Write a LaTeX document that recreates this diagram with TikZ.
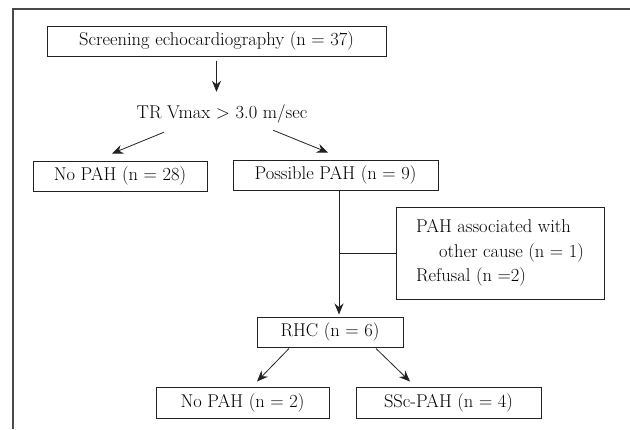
\documentclass[tikz,border=0pt]{standalone}
\usetikzlibrary{arrows.meta,positioning,calc}
\definecolor{Frame}{HTML}{4A4A4A}
\definecolor{Ink}{HTML}{222222}
\tikzset{
  box/.style={draw=Ink, line width=1pt, minimum height=30pt, inner sep=0pt, font=\fontsize{18.5}{24.5}\selectfont},
  plain/.style={inner sep=0pt, text height=12pt, text depth=4pt, font=\fontsize{18.5}{24.5}\selectfont},
  arr/.style={-{Stealth[length=11pt,width=9pt]}, line width=0.8pt, draw=Ink},
  link/.style={line width=0.8pt, draw=Ink}
}
\begin{document}
\begin{tikzpicture}[x=1pt,y=-1pt]
\useasboundingbox (0,0) rectangle (630,429);
\draw[Frame, line width=1.3pt] (630,9) -- (13,9) -- (13,429);
\node[box,minimum width=339pt] (screen) at (216.5,41) {Screening echocardiography (n = 37)};
\node[plain] (tr) at (222,114) {TR Vmax > 3.0 m/sec};
\node[box,minimum width=174pt] (nopahA) at (120,176) {No PAH (n = 28)};
\node[box,minimum width=205pt] (possible) at (335.5,175) {Possible PAH (n = 9)};
\node[box,minimum width=208pt,minimum height=92pt,align=left] (excluded) at (500,253) {PAH associated with\\\hspace*{23pt}other cause (n = 1)\\Refusal (n =2)};
\node[box,minimum width=146pt] (rhc) at (330,332) {RHC (n = 6)};
\node[box,minimum width=173pt,minimum height=31pt] (nopahB) at (242.5,402.5) {No PAH (n = 2)};
\node[box,minimum width=185pt,minimum height=31pt] (ssc) at (448.5,402.5) {SSc-PAH (n = 4)};
\coordinate (drop) at ([xshift=3.5pt]possible.south);
\draw[arr] ([yshift=-4pt]screen.south) -- ([yshift=14pt]screen.south |- tr.north);
\draw[arr] ([xshift=-58pt,yshift=-10pt]tr.south) -- ([xshift=-8pt,yshift=7pt]nopahA.north);
\draw[arr] ([xshift=51pt,yshift=-8pt]tr.south) -- ([xshift=-7.5pt,yshift=7pt]possible.north);
\draw[arr, shorten >=2pt] (drop) -- (drop |- rhc.north);
\draw[link] (excluded.west) -- (excluded.west -| drop);
\draw[arr] ([xshift=-41pt,yshift=-1pt]rhc.south) -- ([xshift=14.5pt,yshift=5pt]nopahB.north);
\draw[arr] ([xshift=46pt,yshift=-1pt]rhc.south) -- ([xshift=-38.5pt,yshift=5pt]ssc.north);
\end{tikzpicture}
\end{document}
